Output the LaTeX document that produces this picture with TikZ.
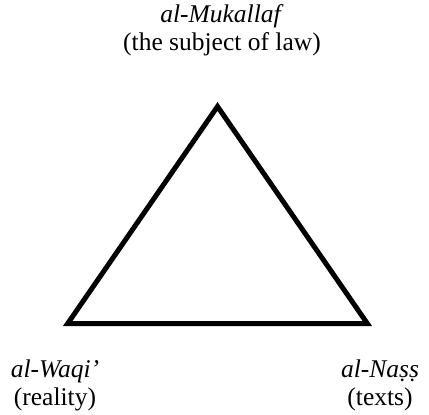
\documentclass[tikz,border=0pt]{standalone}
\usepackage{fontspec}
\setmainfont{Liberation Serif}
\begin{document}
\begin{tikzpicture}[x=1pt,y=-1pt,
  lbl/.style={align=center,inner sep=0pt,font=\fontsize{25.5}{27.5}\selectfont},
  tri/.style={draw=black,line width=5pt,line join=miter}]
\useasboundingbox (0,0) rectangle (429,415);
\coordinate (apex) at (217.5,106.5);
\coordinate (bl) at (67.7,323.5);
\coordinate (br) at (367.3,323.5);
\draw[tri] (apex) -- (bl) -- (br) -- cycle;
\node[lbl] (top) at (222,30) {\textit{al-Mukallaf}\\(the subject of law)};
\node[lbl] (left) at (55,385.5) {\textit{al-Waqi'}\\(reality)};
\node[lbl] (right) at (380,385.5) {\textit{al-Naṣṣ}\\(texts)};
\end{tikzpicture}
\end{document}
